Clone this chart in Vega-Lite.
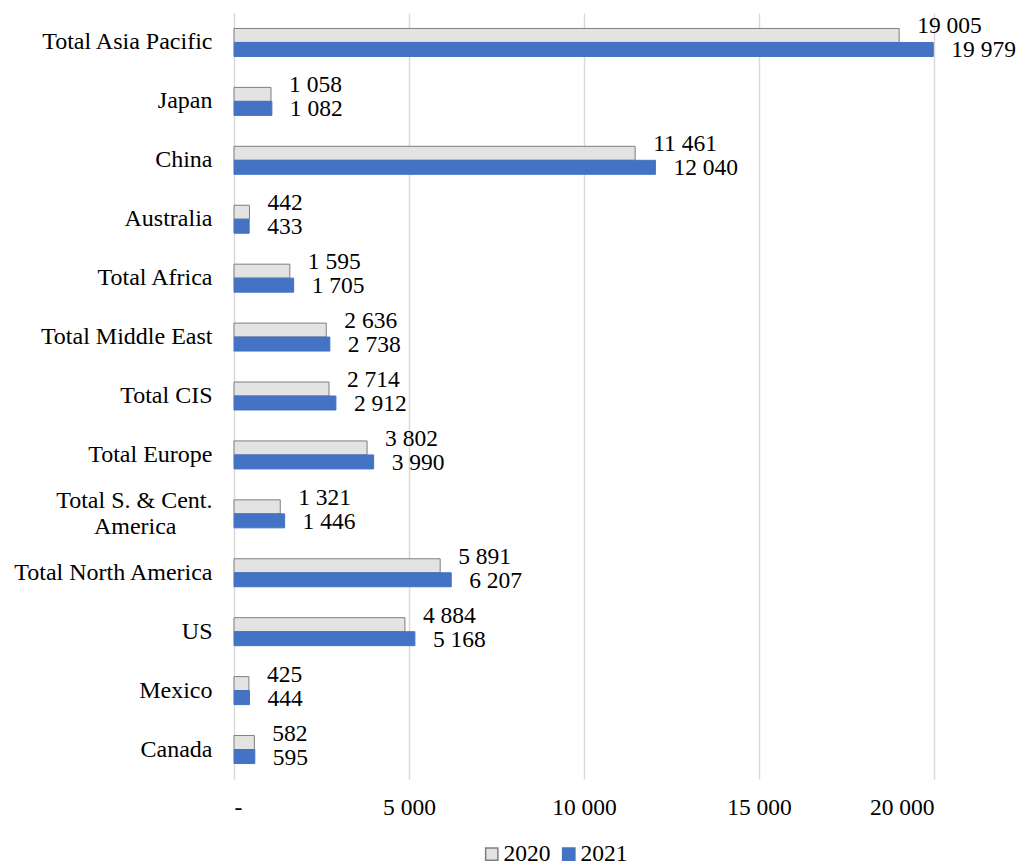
{
  "$schema": "https://vega.github.io/schema/vega-lite/v6.json",
  "width": 700,
  "height": 766,
  "autosize": {"type": "none"},
  "padding": {"left": 234, "top": 13, "right": 82, "bottom": 86},
  "config": {
    "locale": {"number": {"decimal": ",", "thousands": " ", "grouping": [3], "currency": ["", ""]}},
    "font": "Liberation Serif",
    "axis": {"labelFont": "Liberation Serif"},
    "legend": {"labelFont": "Liberation Serif"},
    "text": {"font": "Liberation Serif"},
    "view": {"stroke": null}
  },
  "data": {
    "values": [
      {"region": "Total Asia Pacific", "year": "2020", "value": 19005},
      {"region": "Total Asia Pacific", "year": "2021", "value": 19979},
      {"region": "Japan", "year": "2020", "value": 1058},
      {"region": "Japan", "year": "2021", "value": 1082},
      {"region": "China", "year": "2020", "value": 11461},
      {"region": "China", "year": "2021", "value": 12040},
      {"region": "Australia", "year": "2020", "value": 442},
      {"region": "Australia", "year": "2021", "value": 433},
      {"region": "Total Africa", "year": "2020", "value": 1595},
      {"region": "Total Africa", "year": "2021", "value": 1705},
      {"region": "Total Middle East", "year": "2020", "value": 2636},
      {"region": "Total Middle East", "year": "2021", "value": 2738},
      {"region": "Total CIS", "year": "2020", "value": 2714},
      {"region": "Total CIS", "year": "2021", "value": 2912},
      {"region": "Total Europe", "year": "2020", "value": 3802},
      {"region": "Total Europe", "year": "2021", "value": 3990},
      {"region": "Total S. & Cent. America", "year": "2020", "value": 1321},
      {"region": "Total S. & Cent. America", "year": "2021", "value": 1446},
      {"region": "Total North America", "year": "2020", "value": 5891},
      {"region": "Total North America", "year": "2021", "value": 6207},
      {"region": "US", "year": "2020", "value": 4884},
      {"region": "US", "year": "2021", "value": 5168},
      {"region": "Mexico", "year": "2020", "value": 425},
      {"region": "Mexico", "year": "2021", "value": 444},
      {"region": "Canada", "year": "2020", "value": 582},
      {"region": "Canada", "year": "2021", "value": 595}
    ]
  },
  "encoding": {
    "y": {
      "field": "region",
      "type": "nominal",
      "sort": ["Total Asia Pacific", "Japan", "China", "Australia", "Total Africa", "Total Middle East", "Total CIS", "Total Europe", "Total S. & Cent. America", "Total North America", "US", "Mexico", "Canada"],
      "scale": {"paddingInner": 0.525, "paddingOuter": 0.2625},
      "axis": {
        "title": null,
        "domain": false,
        "ticks": false,
        "grid": false,
        "labelPadding": 22,
        "labelFont": "Liberation Serif",
        "labelFontSize": 24,
        "labelColor": "#000000",
        "labelLineHeight": 26,
        "labelLimit": 300,
        "labelOffset": {"condition": {"test": "datum.value == 'Total S. & Cent. America'", "value": -13}, "value": 0},
        "labelExpr": "datum.label == 'Total S. & Cent. America' ? ['Total S. & Cent.', 'America\u2003\u2002\u200b'] : datum.label"
      }
    },
    "yOffset": {"field": "year", "type": "nominal", "sort": ["2020", "2021"], "scale": {"paddingInner": 0, "paddingOuter": 0}},
    "x": {
      "field": "value",
      "type": "quantitative",
      "scale": {"domain": [0, 20000], "nice": false},
      "axis": {
        "title": null,
        "domain": false,
        "ticks": false,
        "grid": true,
        "gridColor": "#d9d9d9",
        "gridWidth": 1.5,
        "values": [0, 5000, 10000, 15000, 20000],
        "labelExpr": "datum.value == 0 ? '-' : format(datum.value, ',d')",
        "labelFont": "Liberation Serif",
        "labelFontSize": 23.5,
        "labelColor": "#000000",
        "labelPadding": 16
      }
    }
  },
  "layer": [
    {
      "mark": {"type": "bar", "strokeWidth": 1},
      "encoding": {
        "color": {
          "field": "year",
          "type": "nominal",
          "scale": {"domain": ["2020", "2021"], "range": ["#e3e3e3", "#4472C4"]},
          "legend": {
            "title": null,
            "orient": "none",
            "legendX": 246,
            "legendY": 829,
            "direction": "horizontal",
            "symbolType": "square",
            "symbolSize": 150,
            "labelFont": "Liberation Serif",
            "labelFontSize": 23.5,
            "labelColor": "#000000",
            "columnPadding": 6,
            "labelOffset": 0
          }
        },
        "stroke": {
          "field": "year",
          "type": "nominal",
          "scale": {"domain": ["2020", "2021"], "range": ["#7f7f7f", "#4472C4"]},
          "legend": {
            "title": null,
            "orient": "none",
            "legendX": 246,
            "legendY": 829,
            "direction": "horizontal",
            "symbolType": "square",
            "symbolSize": 150,
            "labelFont": "Liberation Serif",
            "labelFontSize": 23.5,
            "labelColor": "#000000",
            "columnPadding": 6,
            "labelOffset": 0
          }
        }
      }
    },
    {
      "transform": [{"filter": "datum.year == '2020'"}],
      "mark": {"type": "text", "align": "left", "baseline": "middle", "dx": 18, "dy": -9, "fontSize": 23.5, "font": "Liberation Serif", "color": "#000000"},
      "encoding": {"text": {"field": "value", "type": "quantitative", "format": ",d"}}
    },
    {
      "transform": [{"filter": "datum.year == '2021'"}],
      "mark": {"type": "text", "align": "left", "baseline": "middle", "dx": 18, "dy": 1, "fontSize": 23.5, "font": "Liberation Serif", "color": "#000000"},
      "encoding": {"text": {"field": "value", "type": "quantitative", "format": ",d"}}
    }
  ]
}
